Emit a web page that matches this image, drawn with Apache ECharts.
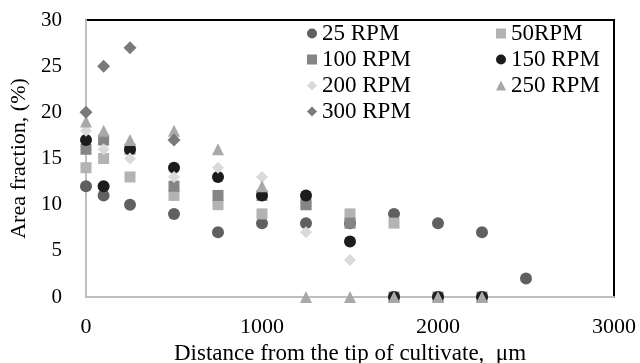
<!DOCTYPE html>
<html>
<head>
<meta charset="utf-8">
<script src="https://cdn.jsdelivr.net/npm/echarts@6/dist/echarts.min.js"></script>
<style>
  html, body { margin: 0; padding: 0; background: #fff; }
  #chart { width: 640px; height: 363px; }
</style>
</head>
<body>
<div id="chart"></div>
<script>
// distances from the tip (µm)
var distances = [0, 100, 250, 500, 750, 1000, 1250, 1500, 1750, 2000, 2250, 2500];
// area fraction (%) per speed, null = no point
var rpm25  = [12, 11, 10, 9, 7, 8, 8, 8, 9, 8, 7, 2];
var rpm50  = [14, 15, 13, 11, 10, 9, 10, 9, 8, null, null, null];
var rpm100 = [16, 17, 16, 12, 11, 11, 10, 8, 0, 0, 0, null];
var rpm150 = [17, 12, 16, 14, 13, 11, 11, 6, 0, 0, 0, null];
var rpm200 = [18, 16, 15, 13, 14, 13, 7, 4, null, null, null, null];
var rpm250 = [19, 18, 17, 18, 16, 12, 0, 0, 0, 0, 0, null];
var rpm300 = [20, 25, 27, 17, null, null, null, null, null, null, null, null];

var font = '"Liberation Serif", "Times New Roman", serif';

function pairs (vals) {
  var out = [];
  for (var i = 0; i < distances.length; i++) {
    if (vals[i] !== null) out.push([distances[i], vals[i]]);
  }
  return out;
}

function mk (name, vals, symbol, size, color) {
  return {
    name: name,
    type: 'scatter',
    symbol: symbol,
    symbolSize: size,
    itemStyle: { color: color, opacity: 1 },
    data: pairs(vals),
  };
}

var chart = echarts.init(document.getElementById('chart'), null, { renderer: 'canvas' });
chart.setOption({
  animation: false,
  backgroundColor: '#fff',
  textStyle: { fontFamily: font },
  grid: {
    left: 86, right: 26, top: 20, bottom: 66,
    outerBoundsMode: 'none', containLabel: false,
    show: true, borderColor: '#000', borderWidth: 2,
  },
  xAxis: {
    type: 'value', min: 0, max: 3000, interval: 1000,
    axisLine: { show: true, lineStyle: { color: '#bfbfbf', width: 2 } },
    axisTick: { show: false },
    splitLine: { show: false },
    axisLabel: { color: '#000', fontSize: 22, fontFamily: font, margin: 19,
      formatter: function (v) { return String(v); } },
    name: 'Distance from the tip of cultivate,  \u03bcm',
    nameLocation: 'middle', nameGap: 34,
    nameTextStyle: { color: '#000', fontSize: 23, fontFamily: font },
  },
  yAxis: {
    type: 'value', min: 0, max: 30, interval: 5,
    axisLine: { show: true, lineStyle: { color: '#bfbfbf', width: 2 } },
    axisTick: { show: false },
    splitLine: { show: false },
    axisLabel: { color: '#000', fontSize: 21, fontFamily: font, margin: 24 },
    name: 'Area fraction, (%)',
    nameLocation: 'middle', nameGap: 55,
    nameTextStyle: { color: '#000', fontSize: 22, fontFamily: font },
  },
  legend: [{
    data: ['25 RPM', '100 RPM', '200 RPM', '300 RPM'],
    orient: 'vertical', left: 302, top: 17,
    itemWidth: 10, itemHeight: 10, itemGap: 3,
    textStyle: { color: '#000', fontSize: 23, fontFamily: font },
  }, {
    data: ['50RPM', '150 RPM', '250 RPM'],
    orient: 'vertical', left: 491, top: 17,
    itemWidth: 10, itemHeight: 10, itemGap: 3,
    textStyle: { color: '#000', fontSize: 23, fontFamily: font },
  }],
  series: [
    mk('25 RPM', rpm25, 'circle', 12, '#606060'),
    mk('50RPM', rpm50, 'rect', 11, '#b3b3b3'),
    mk('100 RPM', rpm100, 'rect', 11, '#858585'),
    mk('150 RPM', rpm150, 'circle', 12, '#1c1c1c'),
    mk('200 RPM', rpm200, 'diamond', 12, '#dadada'),
    mk('250 RPM', rpm250, 'triangle', 12, '#a8a8a8'),
    mk('300 RPM', rpm300, 'diamond', 13, '#7a7a7a'),
  ],
});
</script>
</body>
</html>
